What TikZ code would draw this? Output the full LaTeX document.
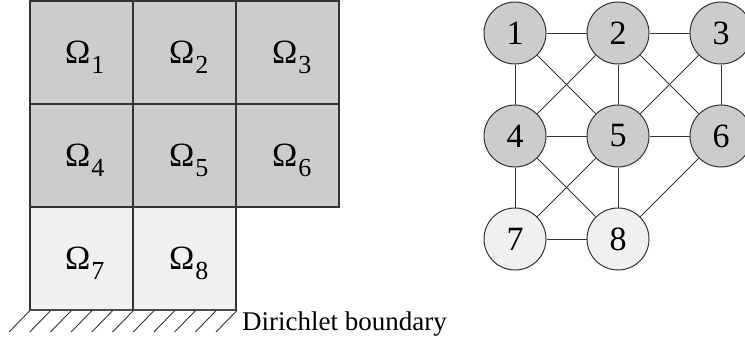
\documentclass[tikz,border=0pt]{standalone}
\usepackage{fontspec}
\setmainfont{Liberation Serif}
\definecolor{dk}{HTML}{CCCCCC}
\definecolor{lt}{HTML}{F0F0F0}
\definecolor{ln}{HTML}{333333}
\newcommand\omlab[1]{Ω\kern1pt\raisebox{-10pt}{\fontsize{26}{26}\selectfont #1}}
\begin{document}
\begin{tikzpicture}[x=1pt,y=-1pt,
  cell/.style={draw=ln, line width=1.2pt, minimum size=103pt, inner sep=0pt, outer sep=0pt},
  cellD/.style={cell, fill=dk},
  cellL/.style={cell, fill=lt},
  lab/.style={anchor=base west, inner sep=0pt, font=\fontsize{34}{34}\selectfont},
  vtx/.style={circle, draw=ln, line width=1pt, minimum size=62pt, inner sep=0pt, font=\fontsize{34}{34}\selectfont},
  vD/.style={vtx, fill=dk},
  vL/.style={vtx, fill=lt},
  edge/.style={draw=ln, line width=1pt},
  hatch/.style={draw=ln, line width=0.9pt}]
\useasboundingbox (0,0) rectangle (745,343);
% grid cells
\node[cellD] (c1) at (81.5,52.5) {};
\node[cellD] (c2) at (184.5,52.5) {};
\node[cellD] (c3) at (287.5,52.5) {};
\node[cellD] (c4) at (81.5,155.5) {};
\node[cellD] (c5) at (184.5,155.5) {};
\node[cellD] (c6) at (287.5,155.5) {};
\node[cellL] (c7) at (81.5,258.5) {};
\node[cellL] (c8) at (184.5,258.5) {};
% labels
\node[lab] (l1) at (65,63) {\omlab{1}};
\node[lab] (l2) at (169,63) {\omlab{2}};
\node[lab] (l3) at (272,63) {\omlab{3}};
\node[lab] (l4) at (65,166) {\omlab{4}};
\node[lab] (l5) at (169,166) {\omlab{5}};
\node[lab] (l6) at (272,166) {\omlab{6}};
\node[lab] (l7) at (65,269) {\omlab{7}};
\node[lab] (l8) at (169,269) {\omlab{8}};
% Dirichlet boundary
\draw[draw=gray!60!black, line width=2pt] (c7.south west) -- (c8.south east);
\foreach \k in {0,...,10}{
  \draw[hatch] (30+20.7*\k,310.5) -- ++(-21,21.5);
}
\node[anchor=base west, inner sep=0pt, font=\fontsize{27}{27}\selectfont] (dir) at (242,330) {Dirichlet boundary};
% graph
\node[vD] (n1) at (515,33) {1};
\node[vD] (n2) at (618,33) {2};
\node[vD] (n3) at (721,33) {3};
\node[vD] (n4) at (515,136) {4};
\node[vD] (n5) at (618,136) {5};
\node[vD] (n6) at (721,136) {6};
\node[vL] (n7) at (515,239) {7};
\node[vL] (n8) at (618,239) {8};
\foreach \a/\b in {1/2,2/3,1/4,1/5,2/4,2/5,2/6,3/5,3/6,4/5,5/6,4/7,4/8,5/7,5/8,6/8,7/8}{
  \draw[edge] (n\a) -- (n\b);
}
\end{tikzpicture}
\end{document}
